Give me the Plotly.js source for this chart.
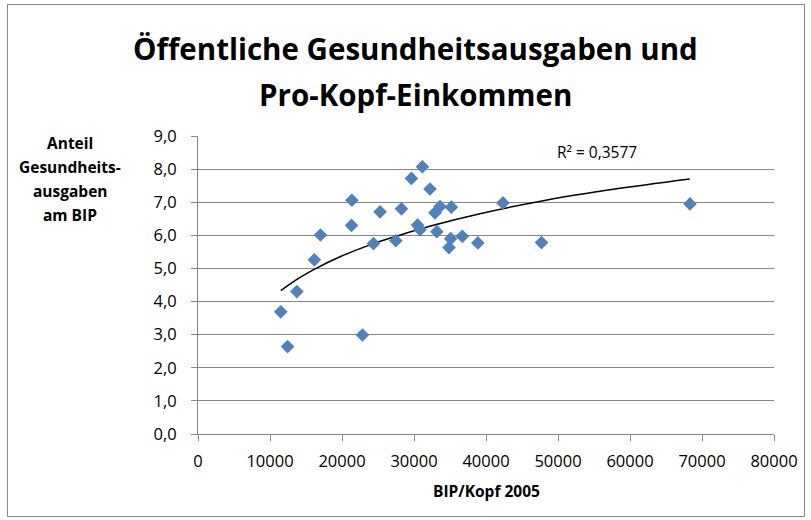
<!DOCTYPE html>
<html>
<head>
<meta charset="utf-8">
<script src="https://cdn.plot.ly/plotly-3.0.1.min.js"></script>
<style>
html,body{margin:0;padding:0;background:#fff;}
#wrap{position:relative;width:811px;height:520px;}
#chart{width:811px;height:520px;}
#frame{position:absolute;left:7px;top:4px;width:796px;height:511px;border:1px solid #8a8a8a;pointer-events:none;}
</style>
</head>
<body>
<div id="wrap"><div id="chart"></div><div id="frame"></div></div>
<script>
// BIP/Kopf 2005 (x) and Anteil Gesundheitsausgaben am BIP (y)
const gdpPerCapita = [11500, 12440, 13730, 16160, 17010, 21370, 21320, 22840, 24370, 25290,
                      27470, 28260, 29640, 31170, 32220, 33610, 32920, 35190, 30480, 30840,
                      33170, 35090, 34860, 36710, 38870, 42350, 47710, 68330];
const healthShare = [3.69, 2.64, 4.30, 5.26, 6.01, 7.06, 6.30, 2.99, 5.75, 6.71,
                     5.84, 6.80, 7.72, 8.07, 7.40, 6.87, 6.68, 6.85, 6.31, 6.17,
                     6.11, 5.90, 5.63, 5.97, 5.77, 6.98, 5.78, 6.95];
// logarithmic trend line
const trendX = [11500, 13900, 16200, 19800, 24000, 27800, 32300, 39300, 48500, 57700, 68300];
const trendY = [4.33, 4.69, 4.98, 5.36, 5.72, 5.99, 6.28, 6.66, 7.07, 7.39, 7.70];
const yTicks = [0, 1, 2, 3, 4, 5, 6, 7, 8, 9];
const xTicks = [0, 10000, 20000, 30000, 40000, 50000, 60000, 70000, 80000];
const titleLines = ['Öffentliche Gesundheitsausgaben und', 'Pro-Kopf-Einkommen'];
const yTitleLines = ['Anteil', 'Gesundheits-', 'ausgaben', 'am BIP'];
const xTitle = 'BIP/Kopf 2005';
const r2Text = 'R² = 0,3577';

const F = '"Open Sans", "Liberation Sans", sans-serif';

const data = [
  {
    x: trendX, y: trendY, type: 'scatter', mode: 'lines',
    line: {color: '#000000', width: 1.5, shape: 'spline'},
    hoverinfo: 'skip', showlegend: false
  },
  {
    x: gdpPerCapita, y: healthShare, type: 'scatter', mode: 'markers',
    marker: {symbol: 'diamond', size: 10.5, color: '#4F81BD', line: {width: 0}},
    showlegend: false
  }
];

const annotations = [];
// chart title, two lines
const titleY = [1.292, 1.138];
titleLines.forEach((t, i) => annotations.push({
  text: '<b>' + t + '</b>', xref: 'paper', yref: 'paper', x: 0.377, y: titleY[i],
  xanchor: 'center', yanchor: 'middle', showarrow: false,
  font: {family: F, size: 29.5, color: '#000'}
}));
// y-axis title, horizontal lines at top left
const yTitleY = [0.9765, 0.896, 0.815, 0.735];
yTitleLines.forEach((t, i) => annotations.push({
  text: '<b>' + t + '</b>', xref: 'paper', yref: 'paper', x: -0.2214, y: yTitleY[i],
  xanchor: 'center', yanchor: 'middle', showarrow: false,
  font: {family: F, size: 15.5, color: '#000'}
}));
// x-axis title
annotations.push({
  text: '<b>' + xTitle + '</b>', xref: 'paper', yref: 'paper', x: 0.5, y: -0.191,
  xanchor: 'center', yanchor: 'middle', showarrow: false,
  font: {family: F, size: 15.5, color: '#000'}
});
// R² label
annotations.push({
  text: r2Text, xref: 'x', yref: 'y', x: 55380, y: 8.52,
  xanchor: 'center', yanchor: 'middle', showarrow: false,
  font: {family: F, size: 15.5, color: '#000'}
});

const layout = {
  width: 811, height: 520,
  margin: {l: 198, r: 37, t: 136, b: 86},
  paper_bgcolor: '#ffffff', plot_bgcolor: '#ffffff',
  separators: ',.',
  font: {family: F, color: '#000000', size: 16.5},
  xaxis: {
    range: [0, 80000], tickvals: xTicks, tickformat: 'd',
    showgrid: false, zeroline: false,
    showline: true, linecolor: '#868686', linewidth: 1,
    ticks: 'outside', ticklen: 6, tickcolor: '#868686',
    ticklabelstandoff: 6,
    tickfont: {family: F, size: 16.5, color: '#000'}
  },
  yaxis: {
    range: [0, 9], tickvals: yTicks, tickformat: '.1f',
    showgrid: true, gridcolor: '#868686', gridwidth: 1,
    zeroline: false, showline: true, linecolor: '#868686', linewidth: 1,
    ticks: 'outside', ticklen: 6, tickcolor: '#868686',
    ticklabelstandoff: 11,
    tickfont: {family: F, size: 16.5, color: '#000'}
  },
  annotations: annotations
};

Plotly.newPlot('chart', data, layout, {displayModeBar: false, staticPlot: true});
</script>
</body>
</html>
